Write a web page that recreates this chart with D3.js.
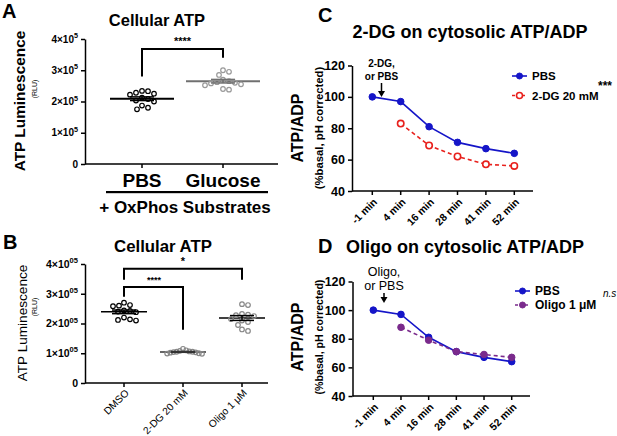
<!DOCTYPE html>
<html><head><meta charset="utf-8">
<script src="https://cdn.jsdelivr.net/npm/d3@7"></script>
<style>body{margin:0;background:#fff} svg{display:block}</style>
</head><body>
<svg id="fig" width="617" height="436"></svg>
<script>
// ---- data (A/B in units of 10^5 RLU) ----
const groupsA = ["PBS", "Glucose"];
const pbsA = [2.34, 2.28, 2.22, 2.12, 2.08, 2.03, 2.00, 2.25, 2.33, 1.87, 1.75, 1.80];
const glucoseA = [3.00, 2.95, 2.85, 2.70, 2.65, 2.60, 2.58, 2.55, 2.52, 2.62, 2.40, 2.38];
const ticksA = [0, 1, 2, 3, 4];

const groupsB = ["DMSO", "2-DG 20 mM", "Oligo 1 μM"];
const dmsoB = [2.70, 2.62, 2.60, 2.58, 2.44, 2.42, 2.40, 2.38, 2.20, 2.14, 2.10, 2.12];
const dgB = [1.15, 1.10, 1.08, 1.05, 1.05, 1.03, 1.02, 1.00, 0.98, 0.99, 1.04, 1.06];
const oligoB = [2.65, 2.62, 2.32, 2.30, 2.28, 2.25, 2.15, 2.10, 2.05, 1.95, 1.80, 1.75];
const ticksB = [0, 1, 2, 3, 4];

const times = ["-1 min", "4 min", "16 min", "28 min", "41 min", "52 min"];
const pbsC = [100, 97, 81, 71, 67, 64];
const dgC = [null, 83, 69, 62, 57, 56];
const pbsD = [100, 97, 81, 71, 67, 64];
const oligoD = [null, 88, 79, 71, 69, 67];
const ticksCD = [40, 60, 80, 100, 120];

// brackets: top / left end / right end in data units
const bracketsA = [{ a: "PBS", b: "Glucose", top: 3.68, l: 2.8, r: 3.4, label: "****" }];
const bracketsB = [
  { a: "DMSO", b: "Oligo 1 μM", top: 3.84, l: 3.47, r: 3.47, label: "*" },
  { a: "DMSO", b: "2-DG 20 mM", top: 3.23, l: 2.9, r: 1.79, label: "****" }
];

const F = '"Liberation Sans", Arial, sans-serif';
const svg = d3.select("#fig").attr("font-family", F);

// ---- helpers ----
function txt(g, x, y, s, size, opts = {}) {
  return g.append("text").attr("x", x).attr("y", y).attr("font-size", size)
    .attr("font-weight", opts.bold === false ? "normal" : "bold")
    .attr("text-anchor", opts.anchor || "middle").attr("fill", "#000").text(s);
}

function vtxt(g, x, y, s, size, bold) { // rotated -90 text, x = baseline
  return g.append("text").attr("transform", `translate(${x},${y}) rotate(-90)`)
    .attr("font-size", size).attr("font-weight", bold ? "bold" : "normal")
    .attr("text-anchor", "middle").text(s);
}

// simple beeswarm so the dots don't pile up, squeezed into maxHalf
function swarm(vals, y, cx, r, maxHalf) {
  const placed = [];
  vals.slice().sort((a, b) => b - a).forEach(v => {
    const py = y(v);
    let off = 0;
    for (let k = 0; k < 80; k++) {
      const cands = k === 0 ? [0] : [k, -k];
      const ok = cands.find(dx => placed.every(p => (p.dx - dx) ** 2 + (p.y - py) ** 2 >= (2 * r + 1.2) ** 2));
      if (ok !== undefined) { off = ok; break; }
    }
    placed.push({ dx: off, y: py });
  });
  const m = d3.max(placed, p => Math.abs(p.dx)) || 1;
  const k = Math.min(1, maxHalf / m);
  return placed.map(p => ({ x: cx + p.dx * k, y: p.y }));
}

function sciAxis(g, y, ticks, exp, fs) {
  g.call(d3.axisLeft(y).tickValues(ticks).tickSize(4).tickSizeOuter(0).tickPadding(3));
  g.attr("font-family", F).attr("font-size", fs);
  g.selectAll("path,line").attr("stroke", "#000").attr("stroke-width", 1.5);
  g.selectAll(".tick text").each(function (d) {
    const t = d3.select(this).text(null).attr("font-weight", "bold").attr("fill", "#000");
    if (d === 0) { t.text("0"); return; }
    t.append("tspan").text(d + "×10");
    t.append("tspan").attr("font-size", fs * 0.72).attr("dy", -fs * 0.45).text(exp);
  });
}

function scatterGroup(g, vals, y, cx, color, half, lineColor, lw, spread) {
  const pts = swarm(vals, y, cx, 2.3, spread);
  const m = d3.mean(vals), se = d3.deviation(vals) / Math.sqrt(vals.length);
  g.append("line").attr("x1", cx - half).attr("x2", cx + half)
    .attr("y1", y(m)).attr("y2", y(m)).attr("stroke", lineColor).attr("stroke-width", lw);
  g.append("g").selectAll("circle").data(pts).join("circle")
    .attr("cx", d => d.x).attr("cy", d => d.y).attr("r", 2.3)
    .attr("fill", "none").attr("stroke", color).attr("stroke-width", 1.2);
  [m - se, m + se].forEach(v => g.append("line").attr("x1", cx - 12).attr("x2", cx + 12)
    .attr("y1", y(v)).attr("y2", y(v)).attr("stroke", lineColor).attr("stroke-width", 1.5));
  g.append("line").attr("x1", cx).attr("x2", cx).attr("y1", y(m - se)).attr("y2", y(m + se))
    .attr("stroke", lineColor).attr("stroke-width", 1.5);
}

function bracket(g, x, y, b, fs, lx) {
  const x1 = x(b.a), x2 = x(b.b);
  g.append("path").attr("fill", "none").attr("stroke", "#000").attr("stroke-width", 2)
    .attr("d", `M${x1},${y(b.l)}V${y(b.top)}H${x2}V${y(b.r)}`);
  txt(g, lx != null ? lx : (x1 + x2) / 2, y(b.top) - 4, b.label, fs);
}

// ---- panel A ----
{
  const g = svg.append("g");
  const y = d3.scaleLinear().domain([0, 4]).range([164, 39]);
  const x = d3.scalePoint().domain(groupsA).range([142, 223]);
  txt(g, 2, 18, "A", 20, { anchor: "start" });
  txt(g, 157, 26, "Cellular ATP", 16.5);
  sciAxis(g.append("g").attr("transform", "translate(85,0)"), y, ticksA, "5", 10);
  const xa = g.append("g").attr("transform", "translate(0,164)");
  xa.append("line").attr("x1", 85).attr("x2", 278).attr("stroke", "#000").attr("stroke-width", 1.5);
  groupsA.forEach(k => xa.append("line").attr("x1", x(k)).attr("x2", x(k)).attr("y2", 4).attr("stroke", "#000").attr("stroke-width", 1.5));
  groupsA.forEach(k => txt(g, x(k), 187, k, 19));
  g.append("rect").attr("x", 106).attr("y", 191).attr("width", 162).attr("height", 2.2).attr("fill", "#000");
  txt(g, 185, 213, "+ OxPhos Substrates", 17);
  vtxt(g, 25, 101, "ATP Luminescence", 15.4, true);
  vtxt(g, 37, 89, "(RLU)", 7, false);
  scatterGroup(g, pbsA, y, x("PBS"), "#000", 32, "#000", 2, 26);
  scatterGroup(g, glucoseA, y, x("Glucose"), "#999", 37, "#707070", 2, 24);
  bracketsA.forEach(b => bracket(g, x, y, b, 11));
}

// ---- panel B ----
{
  const g = svg.append("g");
  const y = d3.scaleLinear().domain([0, 4]).range([383, 264]);
  const x = d3.scalePoint().domain(groupsB).range([124, 242]);
  txt(g, 3, 249, "B", 20, { anchor: "start" });
  txt(g, 163, 252, "Cellular ATP", 16.8);
  sciAxis(g.append("g").attr("transform", "translate(85,0)"), y, ticksB, "05", 10.5);
  const xa = g.append("g").attr("transform", "translate(0,383)");
  xa.append("line").attr("x1", 85).attr("x2", 268).attr("stroke", "#000").attr("stroke-width", 1.5);
  groupsB.forEach(k => {
    xa.append("line").attr("x1", x(k)).attr("x2", x(k)).attr("y2", 4).attr("stroke", "#000").attr("stroke-width", 1.5);
    xa.append("text").attr("transform", `translate(${x(k) + 3},8) rotate(-45)`)
      .attr("text-anchor", "end").attr("dy", "0.35em").attr("font-size", 10.2).text(k);
  });
  vtxt(g, 27, 323, "ATP Luminescence", 13.6, false);
  vtxt(g, 37, 307, "(RLU)", 7, false);
  scatterGroup(g, dmsoB, y, x("DMSO"), "#000", 23, "#000", 1.5, 20);
  scatterGroup(g, dgB, y, x("2-DG 20 mM"), "#888", 23, "#333", 1.5, 19);
  scatterGroup(g, oligoB, y, x("Oligo 1 μM"), "#888", 23, "#000", 1.5, 18);
  bracket(g, x, y, bracketsB[0], 11);
  bracket(g, x, y, bracketsB[1], 9, 154);
}

// ---- panels C / D ----
function linePanel(o) {
  const g = svg.append("g");
  const y = d3.scaleLinear().domain([40, 120]).range([o.yb, o.yt]);
  const x = d3.scalePoint().domain(times).range([o.x0, o.x1]);
  txt(g, 318, o.letterY, o.letter, 20, { anchor: "start" });
  txt(g, o.titleX, o.titleY, o.title, 18);
  const ya = g.append("g").attr("transform", `translate(${o.ax},0)`)
    .call(d3.axisLeft(y).tickValues(ticksCD).tickSize(4).tickSizeOuter(0).tickPadding(3));
  ya.attr("font-family", F).attr("font-size", 12.5).attr("font-weight", "bold");
  ya.selectAll("path,line").attr("stroke", "#000").attr("stroke-width", 1.5);
  ya.selectAll("text").attr("fill", "#000");
  const xa = g.append("g").attr("transform", `translate(0,${o.yb})`);
  xa.append("line").attr("x1", o.ax).attr("x2", o.axEnd).attr("stroke", "#000").attr("stroke-width", 1.5);
  times.forEach(k => {
    xa.append("line").attr("x1", x(k)).attr("x2", x(k)).attr("y2", 4).attr("stroke", "#000").attr("stroke-width", 1.5);
    xa.append("text").attr("transform", `translate(${x(k) + 3},9) rotate(-45)`)
      .attr("text-anchor", "end").attr("dy", "0.35em").attr("font-size", 10.5).attr("font-weight", "bold").text(k);
  });
  vtxt(g, 303, o.labY, "ATP/ADP", 16, true);
  vtxt(g, 323, o.labY, "(%basal, pH corrected)", o.subFs, true);

  const line = d3.line().defined(d => d != null).x((d, i) => x(times[i])).y(d => y(d));
  const series = [
    { vals: o.s1, color: "#1515c8", dash: null, open: false, name: "PBS" },
    { vals: o.s2, color: o.c2, dash: "4,3", open: o.open2, name: o.name2 }
  ];
  series.forEach(s => {
    g.append("path").attr("d", line(s.vals)).attr("fill", "none").attr("stroke", s.color)
      .attr("stroke-width", 1.6).attr("stroke-dasharray", s.dash);
    g.append("g").selectAll("circle").data(s.vals.map((v, i) => ({ v, i })).filter(d => d.v != null)).join("circle")
      .attr("cx", d => x(times[d.i])).attr("cy", d => y(d.v)).attr("r", s.open ? 3.2 : 3.3)
      .attr("fill", s.open ? "#fff" : s.color).attr("stroke", s.color).attr("stroke-width", s.open ? 1.6 : 1);
  });
  // legend
  series.forEach((s, i) => {
    const ly = o.legY[i];
    g.append("line").attr("x1", o.legX).attr("x2", o.legX + 15).attr("y1", ly).attr("y2", ly)
      .attr("stroke", s.color).attr("stroke-width", 1.6).attr("stroke-dasharray", s.dash ? "3,2" : null);
    g.append("circle").attr("cx", o.legX + 7.5).attr("cy", ly).attr("r", 3)
      .attr("fill", s.open ? "#fff" : s.color).attr("stroke", s.color).attr("stroke-width", s.open ? 1.6 : 1);
    txt(g, o.legX + 20, ly + 4.2, s.name, o.legFs, { anchor: "start" });
  });
  // treatment arrow
  txt(g, o.arrX, o.annY[0], o.ann[0], o.annFs, { bold: o.annBold });
  txt(g, o.arrX, o.annY[1], o.ann[1], o.annFs, { bold: o.annBold });
  g.append("line").attr("x1", o.arrX).attr("x2", o.arrX).attr("y1", o.arrY[0]).attr("y2", o.arrY[1] - 5)
    .attr("stroke", "#000").attr("stroke-width", 1.5);
  g.append("path").attr("d", `M${o.arrX - 3.5},${o.arrY[1] - 6}L${o.arrX + 3.5},${o.arrY[1] - 6}L${o.arrX},${o.arrY[1]}Z`).attr("fill", "#000");
  return g;
}

const gC = linePanel({
  letter: "C", letterY: 22, title: "2-DG on cytosolic ATP/ADP", titleX: 470, titleY: 38,
  yb: 191, yt: 65.5, x0: 372.3, x1: 514.3, ax: 352, axEnd: 533, labY: 128, subFs: 11.3,
  s1: pbsC, s2: dgC, c2: "#e8201c", open2: true, name2: "2-DG 20 mM",
  legX: 512, legY: [76, 95.5], legFs: 11.5,
  arrX: 381.5, ann: ["2-DG,", "or PBS"], annY: [67, 80], annFs: 10, annBold: true, arrY: [83, 97]
});
txt(gC, 598, 90, "***", 12, { anchor: "start" });

const gD = linePanel({
  letter: "D", letterY: 253, title: "Oligo on cytosolic ATP/ADP", titleX: 465, titleY: 253,
  yb: 396, yt: 281.5, x0: 373.3, x1: 511.7, ax: 352.5, axEnd: 530, labY: 337, subFs: 10.6,
  s1: pbsD, s2: oligoD, c2: "#7a2a8c", open2: false, name2: "Oligo 1 μM",
  legX: 515, legY: [291, 305], legFs: 12,
  arrX: 384, ann: ["Oligo,", "or PBS"], annY: [276, 290], annFs: 12.5, annBold: false, arrY: [293, 303]
});
gD.append("text").attr("x", 603).attr("y", 297).attr("font-size", 10).attr("font-style", "italic").text("n.s");
</script>
</body></html>
